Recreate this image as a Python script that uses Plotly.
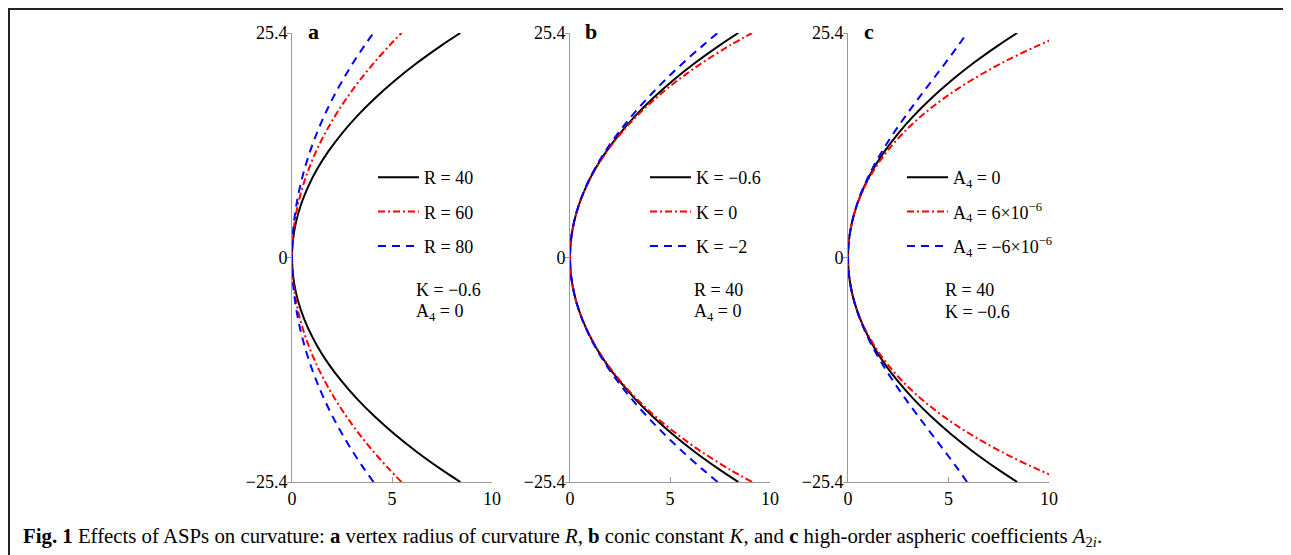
import plotly.graph_objects as go

# The page body has an 8 px margin, so the figure is 8 px smaller than the
# window and all reference pixel positions are shifted by OFF.
OFF = 8
W, H = 1291 - OFF, 555 - OFF
FONT = "Liberation Serif"

# ---- data: aperture height (y) and sag (x) ----
height = [-25.4, -24, -22, -20, -18, -16, -14, -12, -10, -8, -6, -4, -2, 0,
          2, 4, 6, 8, 10, 12, 14, 16, 18, 20, 22, 24, 25.4]

# panel a: K = -0.6, A4 = 0
sag_R40 = [8.419, 7.480, 6.245, 5.132, 4.136, 3.253, 2.481, 1.817, 1.258, 0.803, 0.451, 0.200, 0.050, 0,
           0.050, 0.200, 0.451, 0.803, 1.258, 1.817, 2.481, 3.253, 4.136, 5.132, 6.245, 7.480, 8.419]
sag_R60 = [5.476, 4.879, 4.089, 3.371, 2.725, 2.149, 1.642, 1.205, 0.836, 0.534, 0.300, 0.133, 0.033, 0,
           0.033, 0.133, 0.300, 0.534, 0.836, 1.205, 1.642, 2.149, 2.725, 3.371, 4.089, 4.879, 5.476]
sag_R80 = [4.074, 3.633, 3.048, 2.516, 2.035, 1.607, 1.229, 0.902, 0.626, 0.400, 0.225, 0.100, 0.025, 0,
           0.025, 0.100, 0.225, 0.400, 0.626, 0.902, 1.229, 1.607, 2.035, 2.516, 3.048, 3.633, 4.074]
# panel b: R = 40, A4 = 0
sag_Km06 = sag_R40
sag_K0 = [9.100, 8.000, 6.593, 5.359, 4.279, 3.339, 2.530, 1.842, 1.270, 0.808, 0.453, 0.201, 0.050, 0,
          0.050, 0.201, 0.453, 0.808, 1.270, 1.842, 2.530, 3.339, 4.279, 5.359, 6.593, 8.000, 9.100]
sag_Km2 = [7.383, 6.648, 5.651, 4.721, 3.863, 3.081, 2.379, 1.761, 1.231, 0.792, 0.448, 0.200, 0.050, 0,
           0.050, 0.200, 0.448, 0.792, 1.231, 1.761, 2.379, 3.081, 3.863, 4.721, 5.651, 6.648, 7.383]
# panel c: R = 40, K = -0.6
sag_A0 = sag_R40
sag_Apos = [10.916, 9.471, 7.651, 6.092, 4.765, 3.646, 2.711, 1.941, 1.318, 0.828, 0.459, 0.202, 0.050, 0,
            0.050, 0.202, 0.459, 0.828, 1.318, 1.941, 2.711, 3.646, 4.765, 6.092, 7.651, 9.471, 10.916]
sag_Aneg = [5.922, 5.489, 4.840, 4.172, 3.506, 2.860, 2.250, 1.692, 1.198, 0.779, 0.443, 0.199, 0.050, 0,
            0.050, 0.199, 0.443, 0.779, 1.198, 1.692, 2.250, 2.860, 3.506, 4.172, 4.840, 5.489, 5.922]

panels = [
    ("a", [("R = 40", sag_R40), ("R = 60", sag_R60), ("R = 80", sag_R80)],
     ["K = \u22120.6", "A<sub>4</sub> = 0"]),
    ("b", [("K = \u22120.6", sag_Km06), ("K = 0", sag_K0), ("K = \u22122", sag_Km2)],
     ["R = 40", "A<sub>4</sub> = 0"]),
    ("c", [("A<sub>4</sub> = 0", sag_A0), ("A<sub>4</sub> = 6\u00d710<sup>\u22126</sup>", sag_Apos),
           ("A<sub>4</sub> = \u22126\u00d710<sup>\u22126</sup>", sag_Aneg)],
     ["R = 40", "K = \u22120.6"]),
]

x_ticks = [0, 5, 10]
y_ticks = [-25.4, 0, 25.4]
y_ticktext = ["\u221225.4", "0", "25.4"]

styles = [dict(color="black", width=2, dash="solid"),
          dict(color="#ff0000", width=2, dash="7px,3px,2px,3px"),
          dict(color="#0000ff", width=2, dash="8px,6px")]

# pixel layout (reference screen coordinates)
x0_px = [292, 570, 848]
x10_px = [492, 770, 1049]
ytop_px, ybot_px = 33, 482
note_px = [414, 692, 943]
legend_px = [373, 645, 902]

def px(x):
    return (x - OFF) / W

def py(y):
    return 1 - (y - OFF) / H

fig = go.Figure()
layout = dict(width=W, height=H, margin=dict(l=0, r=0, t=0, b=0, pad=0, autoexpand=False),
              plot_bgcolor="white", paper_bgcolor="white", template="none",
              font=dict(family=FONT, size=18, color="black"),
              showlegend=True)
annotations = []
shapes = []

for i, (lab, series, notes) in enumerate(panels):
    n = "" if i == 0 else str(i + 1)
    xa, ya = "x" + n, "y" + n
    lg = "legend" + n
    for j, (name, sag) in enumerate(series):
        fig.add_trace(go.Scatter(x=sag, y=height, mode="lines", name=name,
                                 line=dict(shape="spline", **styles[j]),
                                 xaxis=xa, yaxis=ya, legend=lg,
                                 legendgroup=f"{lab}{j}"))
    layout["xaxis" + n] = dict(domain=[px(x0_px[i]), px(x10_px[i])], range=[0, 10],
                               tickvals=x_ticks, ticks="inside", ticklen=5,
                               tickcolor="#999", showline=True, linecolor="#999",
                               linewidth=1, showgrid=False, zeroline=False, automargin=False,
                               anchor=ya, tickfont=dict(size=18), fixedrange=True)
    layout["yaxis" + n] = dict(domain=[py(ybot_px), py(ytop_px)], range=[-25.4, 25.4],
                               tickvals=y_ticks, ticktext=y_ticktext, ticks="outside",
                               ticklen=4, tickcolor="#999", showline=True, linecolor="#999",
                               linewidth=1, showgrid=False, zeroline=False, automargin=False,
                               ticklabelstandoff=-4,
                               anchor=xa, tickfont=dict(size=18), fixedrange=True)
    layout[lg] = dict(x=px(legend_px[i]), y=py(159), xanchor="left", yanchor="top",
                      bgcolor="rgba(0,0,0,0)", borderwidth=0, itemwidth=41,
                      tracegroupgap=8, font=dict(family=FONT, size=18),
                      traceorder="grouped", itemclick=False, itemdoubleclick=False)
    annotations.append(dict(text=f"<b>{lab}</b>", x=px(x0_px[i] + 21), y=py(31),
                            xref="paper", yref="paper", showarrow=False,
                            font=dict(size=22), xanchor="center", yanchor="middle"))
    annotations.append(dict(text=notes[0], x=px(note_px[i]), y=py(290), xref="paper",
                            yref="paper", showarrow=False, xanchor="left",
                            yanchor="middle", font=dict(size=18)))
    annotations.append(dict(text=notes[1], x=px(note_px[i]), y=py(312), xref="paper",
                            yref="paper", showarrow=False, xanchor="left",
                            yanchor="middle", font=dict(size=18)))

annotations.append(dict(
    text="<b>Fig. 1</b> Effects of ASPs on curvature: <b>a</b> vertex radius of curvature <i>R</i>, "
         "<b>b</b> conic constant <i>K</i>, and <b>c</b> high-order aspheric coefficients "
         "<i>A</i><sub>2<i>i</i></sub>.",
    x=px(21), y=py(537), xref="paper", yref="paper", showarrow=False,
    xanchor="left", yanchor="middle", font=dict(size=20.8)))

shapes.append(dict(type="line", xref="paper", yref="paper", x0=px(8), x1=1,
                   y0=py(9), y1=py(9), line=dict(color="#222", width=2)))
shapes.append(dict(type="line", xref="paper", yref="paper", x0=px(9), x1=px(9),
                   y0=py(9), y1=0, line=dict(color="#222", width=2)))

layout["annotations"] = annotations
layout["shapes"] = shapes
fig.update_layout(**layout)
fig.write_html("out.html")
